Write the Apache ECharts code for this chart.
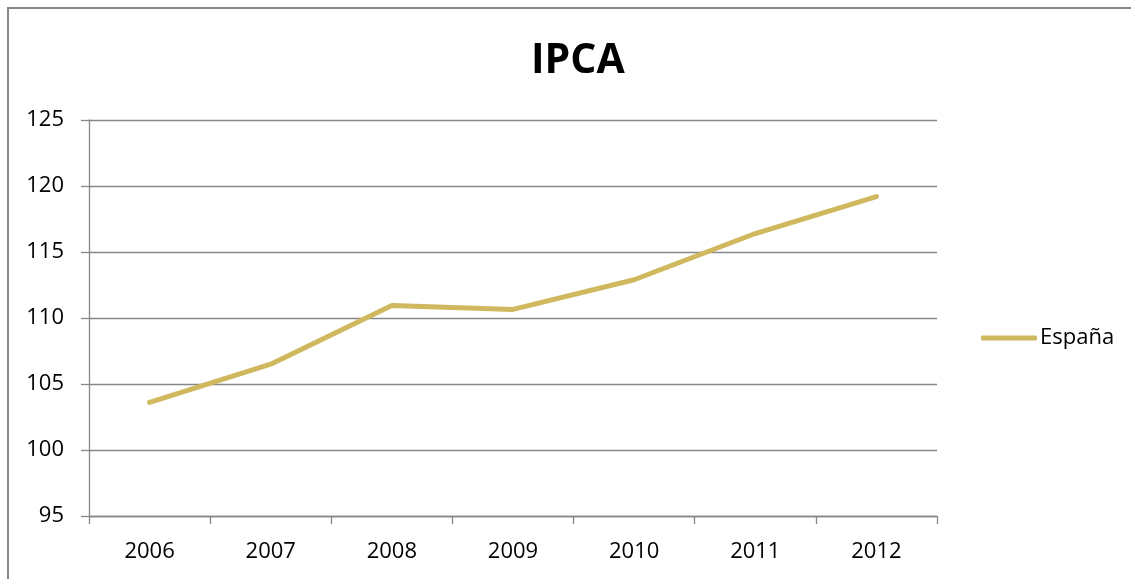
<!DOCTYPE html>
<html>
<head>
<meta charset="utf-8">
<script src="https://cdn.jsdelivr.net/npm/echarts@6/dist/echarts.min.js"></script>
<style>
  html, body { margin: 0; padding: 0; background: #fff; }
  #chart { width: 1131px; height: 579px; }
</style>
</head>
<body>
<div id="chart"></div>
<script>
// Harmonised consumer price index (IPCA), Spain
const years = ['2006', '2007', '2008', '2009', '2010', '2011', '2012'];
const espana = [103.6, 106.5, 110.95, 110.65, 112.9, 116.4, 119.2];
const seriesName = 'España';
const chartTitle = 'IPCA';

const FONT = '"Open Sans", "Noto Sans", sans-serif';
const GRID_COLOR = '#878787';
const LINE_COLOR = '#D0B85F';

const chart = echarts.init(document.getElementById('chart'), null, { renderer: 'canvas' });

chart.setOption({
  animation: false,
  backgroundColor: '#ffffff',
  textStyle: { fontFamily: FONT },
  title: {
    text: chartTitle,
    left: 526,
    top: 36,
    textStyle: { fontFamily: FONT, fontSize: 41, fontWeight: 'bold', color: '#000' }
  },
  graphic: [{
    type: 'rect',
    shape: { x: 8, y: 8, width: 1300, height: 800 },
    style: { fill: 'none', stroke: GRID_COLOR, lineWidth: 2 },
    silent: true
  }],
  legend: {
    data: [{ name: seriesName, icon: 'roundRect' }],
    left: 976,
    top: 322,
    itemWidth: 56,
    itemHeight: 5,
    itemGap: 4,
    textStyle: { fontFamily: FONT, fontSize: 22, color: '#000', padding: [0, 0, 0, -2] }
  },
  grid: { left: 89, right: 194, top: 120, bottom: 63, containLabel: false },
  xAxis: {
    type: 'category',
    data: years,
    boundaryGap: true,
    axisLine: { show: true, lineStyle: { color: GRID_COLOR, width: 1.3 } },
    axisTick: { show: true, length: 8, inside: false, lineStyle: { color: GRID_COLOR, width: 1.3 } },
    axisLabel: { fontFamily: FONT, fontSize: 22, color: '#000', margin: 25 }
  },
  yAxis: {
    type: 'value',
    min: 95,
    max: 125,
    interval: 5,
    axisLine: { show: true, lineStyle: { color: GRID_COLOR, width: 1.3 } },
    axisTick: { show: true, length: 8, lineStyle: { color: GRID_COLOR, width: 1.3 } },
    splitLine: { show: true, lineStyle: { color: GRID_COLOR, width: 1.3 } },
    axisLabel: { fontFamily: FONT, fontSize: 22, color: '#000', margin: 25 }
  },
  series: [{
    name: seriesName,
    type: 'line',
    data: espana,
    showSymbol: false,
    symbol: 'none',
    color: LINE_COLOR,
    lineStyle: { color: LINE_COLOR, width: 5, cap: 'round', join: 'round' },
    itemStyle: { color: LINE_COLOR }
  }]
});
</script>
</body>
</html>
